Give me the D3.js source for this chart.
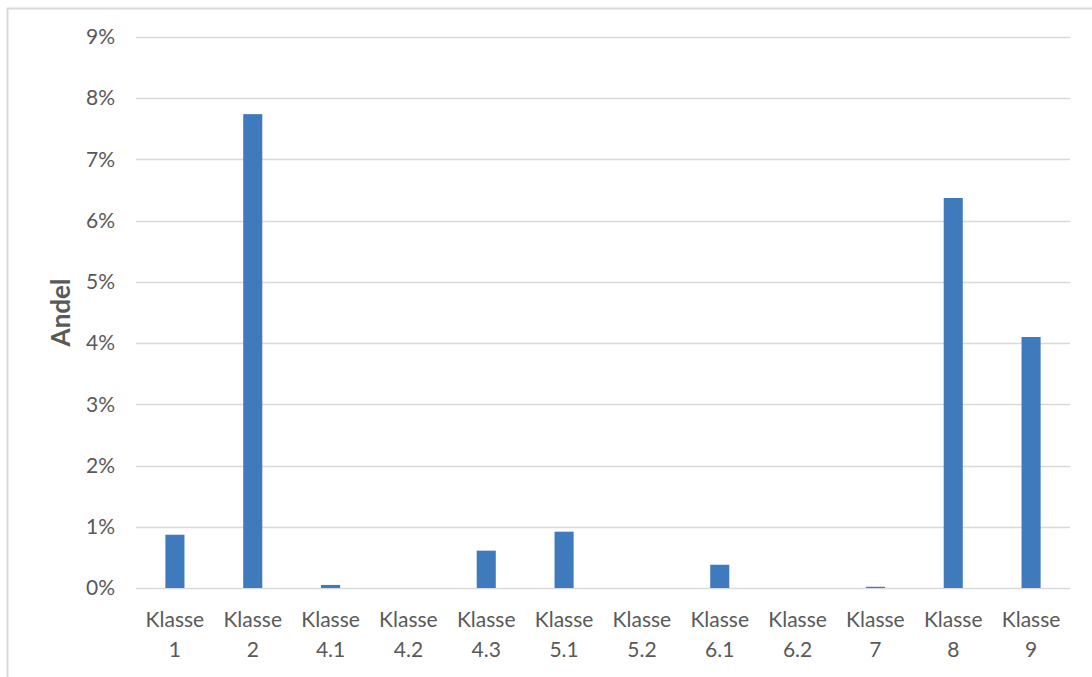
<!DOCTYPE html>
<html>
<head>
<meta charset="utf-8">
<script src="https://cdn.jsdelivr.net/npm/d3@7"></script>
<style>
  html, body { margin: 0; padding: 0; background: #fff; }
  svg { display: block; }
  text { font-family: Lato, "Open Sans", sans-serif; fill: #595959; }
</style>
</head>
<body>
<svg id="chart" width="1092" height="677"></svg>
<script>
// Share per class (percent)
const categories = ["Klasse 1", "Klasse 2", "Klasse 4.1", "Klasse 4.2", "Klasse 4.3", "Klasse 5.1",
                    "Klasse 5.2", "Klasse 6.1", "Klasse 6.2", "Klasse 7", "Klasse 8", "Klasse 9"];
const values = [0.87, 7.74, 0.05, 0, 0.61, 0.92, 0, 0.38, 0, 0.02, 6.37, 4.10];
const yTicks = [0, 1, 2, 3, 4, 5, 6, 7, 8, 9];
const yTitle = "Andel";

const svg = d3.select("#chart");
const W = 1092, H = 677;

// chart frame
svg.append("rect")
  .attr("x", 7.5).attr("y", 8.5)
  .attr("width", W).attr("height", H)
  .attr("fill", "#fff").attr("stroke", "#d9d9d9").attr("stroke-width", 2);

const plot = { left: 136, right: 1070, top: 37, bottom: 588 };

const x = d3.scaleBand().domain(categories).range([plot.left, plot.right]).paddingInner(0.755).paddingOuter(0.3775);
const y = d3.scaleLinear().domain([0, 9]).range([plot.bottom, plot.top]);

// gridlines
svg.append("g").selectAll("line").data(yTicks).join("line")
  .attr("x1", plot.left).attr("x2", plot.right)
  .attr("y1", d => Math.round(y(d)) + 0.5).attr("y2", d => Math.round(y(d)) + 0.5)
  .attr("stroke", "#d9d9d9").attr("stroke-width", 1.3);

// y axis labels
const yAxis = d3.axisLeft(y).tickValues(yTicks).tickFormat(d => d + "%").tickSize(0).tickPadding(21);
const gy = svg.append("g").attr("transform", `translate(${plot.left},0)`).call(yAxis);
gy.select(".domain").remove();
gy.selectAll("text").style("font-size", "21px").attr("fill", "#595959")
  .style("font-family", "Lato, 'Open Sans', sans-serif");

// bars
svg.append("g").selectAll("rect").data(categories).join("rect")
  .attr("x", d => x(d))
  .attr("width", x.bandwidth())
  .attr("y", (d, i) => y(values[i]))
  .attr("height", (d, i) => y(0) - y(values[i]))
  .attr("fill", "#3f7abd");

// x axis labels, two lines each
const gx = svg.append("g");
categories.forEach(c => {
  const parts = c.split(" ");
  const cx = x(c) + x.bandwidth() / 2;
  const t = gx.append("text")
    .attr("x", cx)
    .attr("y", 627)
    .attr("text-anchor", "middle")
    .style("font-size", "21px");
  t.append("tspan").attr("x", cx).text(parts[0]);
  t.append("tspan").attr("x", cx).attr("dy", 30).text(parts[1]);
});

// y axis title
svg.append("text")
  .attr("transform", `translate(70,${(plot.top + plot.bottom) / 2}) rotate(-90)`)
  .attr("text-anchor", "middle")
  .style("font-size", "26px").style("font-weight", "bold")
  .text(yTitle);
</script>
</body>
</html>
